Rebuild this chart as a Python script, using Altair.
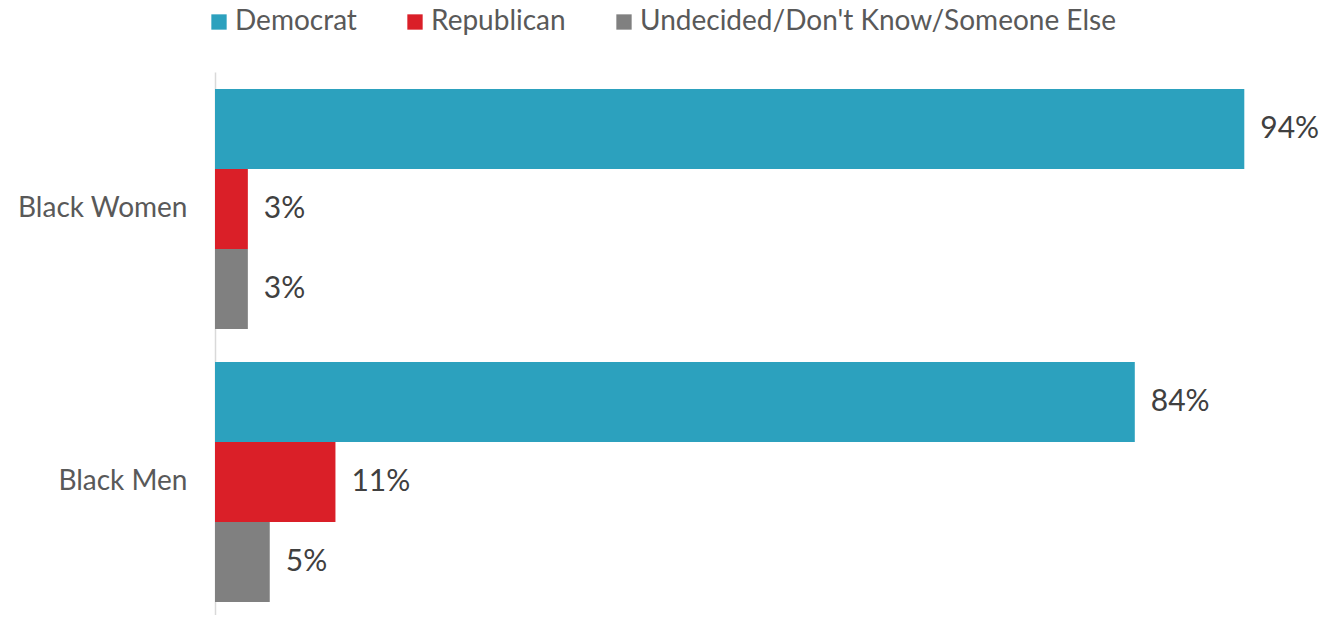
import altair as alt
import pandas as pd

groups = ["Black Women", "Black Men"]
series = ["Democrat", "Republican", "Undecided/Don't Know/Someone Else"]
colors = ["#2CA1BE", "#DA1F28", "#808080"]
democrat = [94, 84]
republican = [3, 11]
undecided = [3, 5]

rows = []
for i, g in enumerate(groups):
    for s, vals in zip(series, [democrat, republican, undecided]):
        rows.append({"group": g, "series": s, "value": vals[i], "label": f"{vals[i]}%"})
df = pd.DataFrame(rows)

FONT = "Lato"

y_enc = alt.Y("group:N", sort=groups,
              scale=alt.Scale(paddingInner=0.121, paddingOuter=0.055, align=0.567),
              axis=alt.Axis(title=None, ticks=False, labelFontSize=28, labelColor="#595959",
                            labelFont=FONT, labelPadding=28, domainColor="#D9D9D9",
                            domainWidth=1.5, minExtent=207, maxExtent=207, grid=False))
yoff = alt.YOffset("series:N", sort=series, scale=alt.Scale(paddingInner=0, paddingOuter=0))
x_enc = alt.X("value:Q", scale=alt.Scale(domain=[0, 100], nice=False), axis=None)

bars = alt.Chart(df).mark_bar().encode(
    x=x_enc, y=y_enc, yOffset=yoff,
    color=alt.Color("series:N", sort=series,
                    scale=alt.Scale(domain=series, range=colors),
                    legend=alt.Legend(title=None, orient="none", direction="horizontal",
                                      legendX=-10, legendY=-64, symbolType="square",
                                      symbolSize=235, symbolStrokeWidth=0, labelFontSize=28,
                                      labelFont=FONT, labelColor="#595959", labelOffset=2,
                                      columnPadding=44, labelLimit=700)),
)

text = alt.Chart(df).mark_text(align="left", baseline="middle", dx=16, fontSize=30,
                               font=FONT, color="#404040").encode(
    x=x_enc, y=y_enc, yOffset=yoff, text="label:N"
)

chart = (bars + text).properties(
    width=1095, height=543, background="white",
    padding={"left": 0, "top": 0, "right": 0, "bottom": 0},
).configure_view(stroke=None)

chart.save("out.html", embed_options={"renderer": "svg", "actions": False})
